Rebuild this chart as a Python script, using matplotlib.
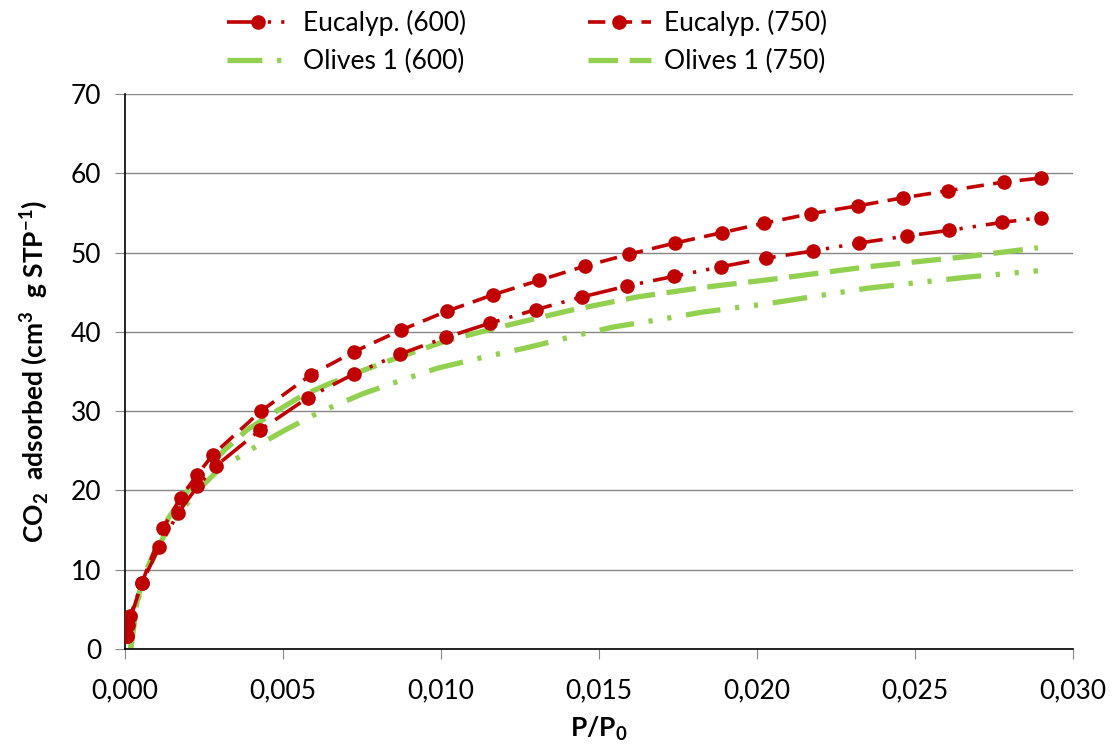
import numpy as np
import matplotlib
matplotlib.use('Agg')
import matplotlib.pyplot as plt
from matplotlib.ticker import FuncFormatter

plt.rcParams['font.family'] = ['Lato', 'DejaVu Sans']
plt.rcParams['mathtext.fontset'] = 'custom'
plt.rcParams['mathtext.rm'] = 'Lato'
plt.rcParams['mathtext.bf'] = 'Lato:bold'

# data
euc600_x = [0.00005, 0.00016, 0.00053, 0.00109, 0.00169, 0.00229, 0.00288, 0.00427, 0.00579,
            0.00725, 0.0087, 0.01016, 0.01155, 0.0130, 0.01446, 0.0159, 0.01737, 0.01885,
            0.0203, 0.02177, 0.02323, 0.02475, 0.02608, 0.02774, 0.02898]
euc600_y = [1.6, 4.1, 8.3, 12.9, 17.2, 20.5, 23.1, 27.6, 31.7, 34.7, 37.2, 39.3, 41.1, 42.8,
            44.4, 45.8, 47.0, 48.2, 49.3, 50.2, 51.2, 52.1, 52.8, 53.8, 54.4]

euc750_x = [0.00005, 0.0001, 0.00053, 0.00121, 0.00176, 0.00229, 0.00278, 0.0043, 0.00589,
            0.00725, 0.00872, 0.01018, 0.01166, 0.01311, 0.01456, 0.01596, 0.0174, 0.01888,
            0.02022, 0.0217, 0.0232, 0.02461, 0.02604, 0.02782, 0.02899]
euc750_y = [1.6, 3.0, 8.3, 15.3, 19.1, 22.0, 24.5, 30.0, 34.6, 37.5, 40.2, 42.6, 44.7, 46.5,
            48.3, 49.8, 51.2, 52.5, 53.7, 54.9, 55.9, 56.9, 57.8, 58.9, 59.4]

oli600_x = [0.00018, 0.00037, 0.00058, 0.00105, 0.00137, 0.00206, 0.00253, 0.00301, 0.00373,
            0.00421, 0.00506, 0.00607, 0.00658, 0.00753, 0.0086, 0.00987, 0.01123, 0.01282,
            0.01434, 0.01544, 0.01698, 0.01829, 0.02041, 0.02348, 0.02665, 0.02889]
oli600_y = [0.1, 5.5, 8.7, 12.8, 15.4, 18.8, 20.9, 22.8, 24.5, 25.7, 27.6, 29.7, 30.6, 32.2,
            33.7, 35.4, 36.7, 38.1, 39.6, 40.6, 41.6, 42.5, 43.6, 45.5, 46.9, 47.7]

oli750_x = [0.00018, 0.00037, 0.00058, 0.00105, 0.00137, 0.00195, 0.00237, 0.0031, 0.00385,
            0.00475, 0.00563, 0.00649, 0.00744, 0.00839, 0.01018, 0.01196, 0.01408, 0.0162,
            0.01829, 0.02041, 0.02348, 0.02665, 0.02889]
oli750_y = [0.1, 5.8, 9.1, 13.3, 16.5, 19.8, 21.7, 24.9, 27.6, 29.9, 32.0, 33.5, 35.0, 36.4,
            38.9, 40.7, 42.7, 44.4, 45.6, 46.6, 48.2, 49.5, 50.6]

red = '#C00000'
green = '#92D050'

fig = plt.figure(figsize=(11.13, 7.45), dpi=100)
ax = fig.add_axes([125/1113, 96/745, 948/1113, 555/745])

ax.plot(euc600_x, euc600_y, color=red, lw=2.6, marker='o', ms=9.5,
        dashes=(8.5, 2.8, 0.9, 2.8, 0.9, 2.8), label='Eucalyp. (600)', zorder=3)
ax.plot(oli600_x, oli600_y, color=green, lw=3.8,
        dashes=(6.6, 2.8, 0.8, 2.8, 0.8, 2.8), label='Olives 1 (600)', zorder=2)
ax.plot(euc750_x, euc750_y, color=red, lw=2.6, marker='o', ms=9.5,
        dashes=(4.8, 2.6), label='Eucalyp. (750)', zorder=3)
ax.plot(oli750_x, oli750_y, color=green, lw=3.8,
        dashes=(5.6, 2.2), label='Olives 1 (750)', zorder=2)

ax.set_xlim(0, 0.030)
ax.set_ylim(0, 70)
ax.set_xticks(np.arange(0, 0.0301, 0.005))
ax.set_yticks(range(0, 71, 10))
ax.xaxis.set_major_formatter(FuncFormatter(lambda v, p: ('%.3f' % v).replace('.', ',')))
ax.yaxis.grid(True, color='#868686', lw=1)
ax.set_axisbelow(True)
for s in ['top', 'right']:
    ax.spines[s].set_visible(False)
ax.spines['left'].set_linewidth(1.2)
ax.spines['bottom'].set_linewidth(1.2)
ax.tick_params(axis='both', labelsize=19, length=7, color='#868686', pad=10)
ax.tick_params(axis='x', pad=14)

ax.set_xlabel(r'P/P$_\mathbf{0}$', fontsize=19, fontweight='bold', labelpad=8)
ax.set_ylabel(r'CO$_\mathbf{2}$  adsorbed (cm$^\mathbf{3}$  g STP$^\mathbf{-1}$)',
              fontsize=19, fontweight='bold', labelpad=14)

h, l = ax.get_legend_handles_labels()
fig.legend(h, l, ncol=2, loc='center', bbox_to_anchor=(527/1113, 1 - 42/745),
           frameon=False, fontsize=19, handlelength=2.4, handletextpad=0.5,
           columnspacing=4.6, labelspacing=0.5, numpoints=1)

fig.savefig('out.png', dpi=100)
